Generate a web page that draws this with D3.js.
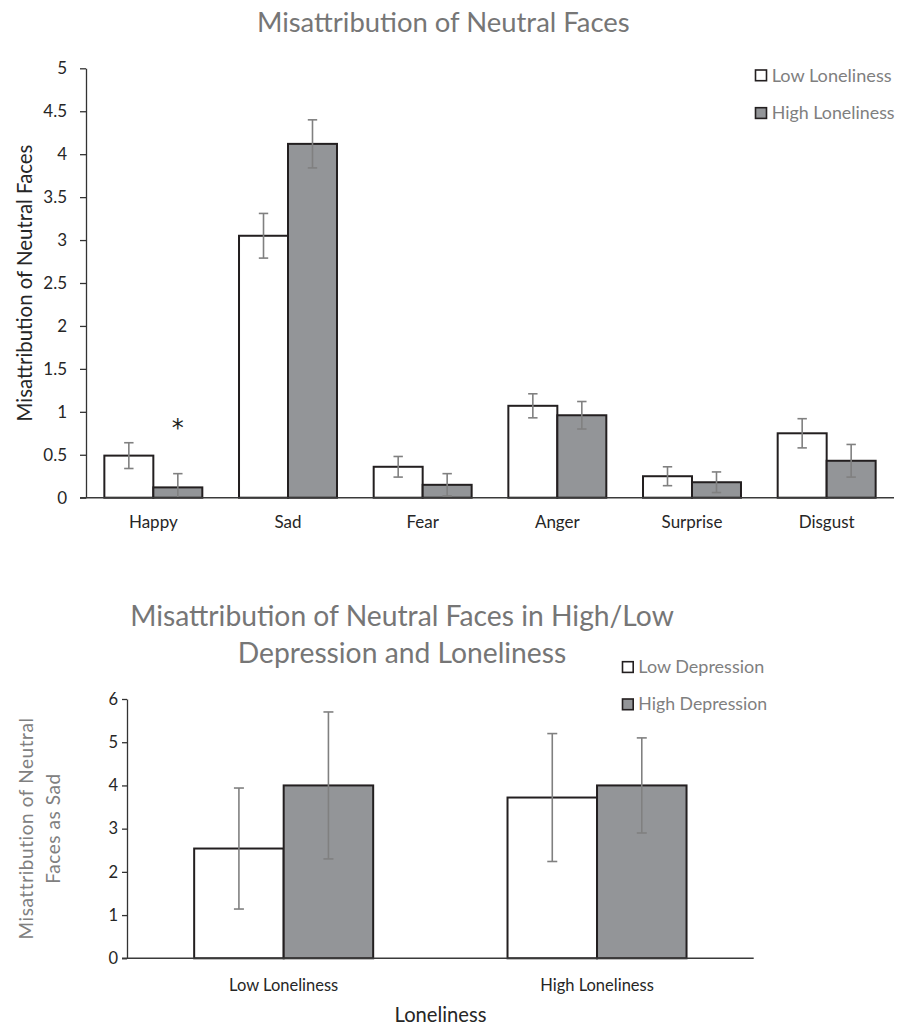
<!DOCTYPE html>
<html lang="en">
<head>
    <meta charset="UTF-8">
    <title>Misattribution of Neutral Faces</title>
    <style>
    body {
        margin: 0;
        background-color: #fff;
    }
    svg {
        display: block;
        font-family: Lato, "Open Sans", sans-serif;
    }
    </style>
    <script src="https://cdn.jsdelivr.net/npm/d3@7"></script>
</head>
<body>
    <svg width="904" height="1028"></svg>
    <script>

        // chart 1 : emotions x loneliness
        var emotions = ["Happy", "Sad", "Fear", "Anger", "Surprise", "Disgust"];
        var lonelinessGroups = ["Low Loneliness", "High Loneliness"];
        var lowLonelinessMeans = [0.49, 3.05, 0.36, 1.07, 0.25, 0.75];
        var lowLonelinessErr = [0.15, 0.26, 0.12, 0.14, 0.11, 0.17];
        var highLonelinessMeans = [0.12, 4.12, 0.15, 0.96, 0.18, 0.43];
        var highLonelinessErr = [0.16, 0.28, 0.13, 0.16, 0.12, 0.19];
        var topTicks = [0, 0.5, 1, 1.5, 2, 2.5, 3, 3.5, 4, 4.5, 5];
        var significant = [{ category: "Happy", group: "High Loneliness", mark: "*" }];

        // chart 2 : loneliness x depression (sad only)
        var lonelinessLevels = ["Low Loneliness", "High Loneliness"];
        var depressionGroups = ["Low Depression", "High Depression"];
        var lowDepressionMeans = [2.54, 3.72];
        var lowDepressionErr = [1.40, 1.48];
        var highDepressionMeans = [4.0, 4.0];
        var highDepressionErr = [1.70, 1.10];
        var bottomTicks = [0, 1, 2, 3, 4, 5, 6];

        var fills = ["#ffffff", "#939598"],
            barStroke = "#231f20",
            errColor = "#808080",
            titleColor = "#767676",
            textColor = "#262626";

        var svg = d3.select("svg");

        // scale a text's font size so its first line spans the given width
        function fit(sel, w) {
            var node = sel.select("tspan").node() || sel.node();
            var len = node.getComputedTextLength();
            sel.attr("font-size", parseFloat(sel.attr("font-size")) * w / len);
            return sel;
        }

        function rows(cats, means1, err1, means2, err2, groups) {
            var out = [];
            cats.forEach(function(c, i) {
                out.push({ cat: c, group: groups[0], value: means1[i], err: err1[i], k: 0 });
                out.push({ cat: c, group: groups[1], value: means2[i], err: err2[i], k: 1 });
            });
            return out;
        }

        function drawChart(opt) {
            var x = d3.scaleBand().domain(opt.cats).range(opt.xRange)
                .paddingInner(opt.pad).paddingOuter(opt.pad / 2);
            var xSub = d3.scaleBand().domain(opt.groups).range([0, x.bandwidth()]);
            var y = d3.scaleLinear().domain(opt.yDomain).range(opt.yRange);
            var g = svg.append("g");

            // y axis
            var ya = g.append("g")
                .attr("transform", "translate(" + opt.xRange[0] + ",0)")
                .call(d3.axisLeft(y).tickValues(opt.ticks).tickFormat(d3.format("~g"))
                    .tickSize(opt.tickSize).tickSizeOuter(0).tickPadding(opt.tickPad));
            ya.attr("font-family", null).attr("font-size", null);
            ya.select(".domain").attr("stroke", "#333").attr("stroke-width", 1.3);
            ya.selectAll(".tick line").attr("stroke", "#333").attr("stroke-width", 1.3);
            ya.selectAll(".tick text").attr("fill", textColor).attr("font-size", opt.tickFont);

            // bars
            g.selectAll("rect.bar").data(opt.data).join("rect")
                .attr("class", "bar")
                .attr("x", function(d) { return x(d.cat) + xSub(d.group); })
                .attr("y", function(d) { return y(d.value); })
                .attr("width", xSub.bandwidth())
                .attr("height", function(d) { return y(0) - y(d.value); })
                .attr("fill", function(d) { return fills[d.k]; })
                .attr("stroke", barStroke)
                .attr("stroke-width", 2);

            // error bars
            var eb = g.selectAll("g.err").data(opt.data).join("g")
                .attr("class", "err")
                .attr("stroke", errColor)
                .attr("stroke-width", 1.6)
                .attr("transform", function(d) {
                    return "translate(" + (x(d.cat) + xSub(d.group) + xSub.bandwidth() / 2) + ",0)";
                });
            eb.append("line")
                .attr("y1", function(d) { return y(d.value + d.err); })
                .attr("y2", function(d) { return y(Math.max(0, d.value - d.err)); });
            eb.append("line")
                .attr("x1", -opt.cap).attr("x2", opt.cap)
                .attr("y1", function(d) { return y(d.value + d.err); })
                .attr("y2", function(d) { return y(d.value + d.err); });
            eb.filter(function(d) { return d.value - d.err > 0; }).append("line")
                .attr("x1", -opt.cap).attr("x2", opt.cap)
                .attr("y1", function(d) { return y(d.value - d.err); })
                .attr("y2", function(d) { return y(d.value - d.err); });

            // x axis
            var xa = g.append("g")
                .attr("transform", "translate(0," + y(0) + ")")
                .call(d3.axisBottom(x).tickSize(0).tickSizeOuter(0));
            xa.attr("font-family", null).attr("font-size", null);
            xa.select(".domain").attr("stroke", "#3a3a3a").attr("stroke-width", 1.6)
                .attr("d", "M" + (opt.xRange[0] - opt.tickSize) + ",0H" + opt.xRange[1]);
            xa.selectAll(".tick text").attr("fill", textColor)
                .attr("font-size", opt.labelFont)
                .attr("dy", 0).attr("y", opt.labelY);

            return { x: x, xSub: xSub, y: y, g: g };
        }

        // ---------- chart 1 ----------
        var c1 = drawChart({
            cats: emotions, groups: lonelinessGroups,
            data: rows(emotions, lowLonelinessMeans, lowLonelinessErr,
                highLonelinessMeans, highLonelinessErr, lonelinessGroups),
            xRange: [86, 894], pad: 0.2725,
            yDomain: [0, 5], yRange: [497.7, 68.3], ticks: topTicks,
            tickSize: 6, tickPad: 13, tickFont: 17, labelFont: 17, labelY: 30.5, cap: 4.7
        });

        significant.forEach(function(s) {
            var i = emotions.indexOf(s.category);
            c1.g.append("text")
                .attr("x", c1.x(s.category) + c1.xSub(s.group) + c1.xSub.bandwidth() / 2)
                .attr("y", c1.y(highLonelinessMeans[i] + highLonelinessErr[i]) - 38)
                .attr("text-anchor", "middle")
                .attr("font-family", "DejaVu Sans, sans-serif")
                .attr("font-size", 24)
                .attr("fill", "#231f20")
                .text(s.mark);
        });

        fit(svg.append("text")
            .attr("x", 443.3).attr("y", 31.7)
            .attr("text-anchor", "middle")
            .attr("font-size", 26).attr("fill", titleColor)
            .text("Misattribution of Neutral Faces"), 373);

        fit(svg.append("text")
            .attr("transform", "translate(31.5,283) rotate(-90)")
            .attr("text-anchor", "middle")
            .attr("font-size", 20).attr("fill", textColor)
            .text("Misattribution of Neutral Faces"), 277);

        var leg1 = svg.append("g");
        var leg1W = [120, 123];
        lonelinessGroups.forEach(function(name, i) {
            var top = 70 + i * 37.7;
            leg1.append("rect")
                .attr("x", 755.5).attr("y", top).attr("width", 11).attr("height", 10.7)
                .attr("fill", fills[i]).attr("stroke", barStroke).attr("stroke-width", 1.6);
            fit(leg1.append("text")
                .attr("x", 771.7).attr("y", top + 11.5)
                .attr("font-size", 16).attr("fill", "#7f7f7f")
                .text(name), leg1W[i]);
        });

        // ---------- chart 2 ----------
        var c2 = drawChart({
            cats: lonelinessLevels, groups: depressionGroups,
            data: rows(lonelinessLevels, lowDepressionMeans, lowDepressionErr,
                highDepressionMeans, highDepressionErr, depressionGroups),
            xRange: [127, 753.7], pad: 0.4287,
            yDomain: [0, 6], yRange: [958.3, 699], ticks: bottomTicks,
            tickSize: 5, tickPad: 4, tickFont: 16.5, labelFont: 16.5, labelY: 32.4, cap: 5
        });

        var t2 = svg.append("text")
            .attr("text-anchor", "middle")
            .attr("font-size", 25).attr("fill", titleColor);
        t2.append("tspan").attr("x", 402).attr("y", 626)
            .text("Misattribution of Neutral Faces in High/Low");
        t2.append("tspan").attr("x", 402).attr("y", 663)
            .text("Depression and Loneliness");
        fit(t2, 544);

        var yt2 = svg.append("text")
            .attr("transform", "translate(33,828.5) rotate(-90)")
            .attr("text-anchor", "middle")
            .attr("font-size", 18).attr("fill", "#808080")
            .attr("letter-spacing", 0.6);
        yt2.append("tspan").attr("x", 0).attr("y", 0).text("Misattribution of Neutral");
        yt2.append("tspan").attr("x", 0).attr("y", 27).text("Faces as Sad");
        fit(yt2, 223);

        fit(svg.append("text")
            .attr("x", 440.5).attr("y", 1022)
            .attr("text-anchor", "middle")
            .attr("font-size", 17).attr("fill", textColor)
            .text("Loneliness"), 92);

        var leg2 = svg.append("g");
        var leg2W = [126, 129];
        depressionGroups.forEach(function(name, i) {
            var top = 661.7 + i * 37.3;
            leg2.append("rect")
                .attr("x", 622.5).attr("y", top).attr("width", 10.7).attr("height", 10.7)
                .attr("fill", fills[i]).attr("stroke", barStroke).attr("stroke-width", 1.6);
            fit(leg2.append("text")
                .attr("x", 638.3).attr("y", top + 11)
                .attr("font-size", 16).attr("fill", "#7f7f7f")
                .text(name), leg2W[i]);
        });
    </script>
</body>
</html>
